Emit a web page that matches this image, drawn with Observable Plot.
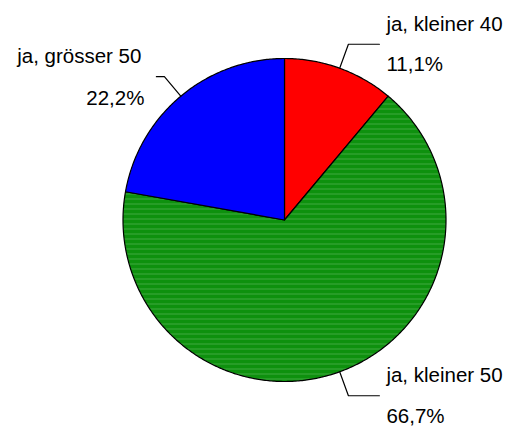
<!DOCTYPE html>
<html><head><meta charset="utf-8">
<script src="https://cdn.jsdelivr.net/npm/d3@7"></script>
<script src="https://cdn.jsdelivr.net/npm/@observablehq/plot@0.6"></script>
<style>body{margin:0;background:#fff}</style>
</head><body><div id="chart"></div>
<script>
// Data
const categories = ["ja, kleiner 40", "ja, kleiner 50", "ja, grösser 50"];
const percentages = [11.1, 66.7, 22.2];
const percentLabels = ["11,1%", "66,7%", "22,2%"];
const sliceColors = ["#ff0000", "url(#greenStripes)", "#0000ff"];

// Layout
const W = 512, H = 426;
const cx = 284, cy = 219.5, R = 161.5;
const elbowRatio = 1.158;

const total = d3.sum(percentages);
let cum = 0;
const slices = categories.map((name, i) => {
  const a0 = 2 * Math.PI * cum / total;
  cum += percentages[i];
  const a1 = 2 * Math.PI * cum / total;
  return {name, value: percentages[i], label: percentLabels[i], fill: sliceColors[i], a0, a1};
});

// Arc polygons (angle 0 = 12 o'clock, clockwise)
function arcPoints(s) {
  const n = Math.max(4, Math.ceil((s.a1 - s.a0) / 0.01));
  const pts = [{name: s.name, x: 0, y: 0}];
  for (let k = 0; k <= n; k++) {
    const a = s.a0 + (s.a1 - s.a0) * k / n;
    pts.push({name: s.name, x: Math.sin(a), y: Math.cos(a)});
  }
  pts.push({name: s.name, x: 0, y: 0});
  return pts;
}

// Leader lines and label anchors
const leaders = [];
const labels = [];
slices.forEach(s => {
  const m = (s.a0 + s.a1) / 2;
  const ex = Math.sin(m), ey = Math.cos(m);
  const bx = ex * elbowRatio, by = ey * elbowRatio;
  const right = ex >= 0;
  const h = (right ? 31 : -8) / R;
  const endX = bx + h;
  leaders.push({name: s.name, x: ex, y: ey}, {name: s.name, x: bx, y: by}, {name: s.name, x: endX, y: by});
  labels.push({name: s.name, label: s.label, x: endX, y: by, right});
});

const sliceMarks = slices.map(s =>
  Plot.line(arcPoints(s), {x: "x", y: "y", fill: s.fill, stroke: "black", strokeWidth: 1.2, strokeLinejoin: "round"})
);

const textStyle = {fontFamily: "'Liberation Sans', Arial, sans-serif", fontSize: 20.5, fill: "#000", lineAnchor: "bottom"};

const svg = Plot.plot({
  width: W, height: H, margin: 0,
  x: {domain: [-1, 1], range: [cx - R, cx + R], axis: null},
  y: {domain: [-1, 1], range: [cy + R, cy - R], axis: null},
  marks: [
    ...sliceMarks,
    Plot.line(leaders, {x: "x", y: "y", z: "name", stroke: "black", strokeWidth: 1.2}),
    Plot.text(labels.filter(d => d.right), {x: "x", y: "y", text: "name", textAnchor: "start", dx: 7, dy: -13.5, ...textStyle}),
    Plot.text(labels.filter(d => d.right), {x: "x", y: "y", text: "label", textAnchor: "start", dx: 7, dy: 26.8, ...textStyle}),
    Plot.text(labels.filter(d => !d.right), {x: "x", y: "y", text: "name", textAnchor: "end", dx: -15, dy: -14, ...textStyle}),
    Plot.text(labels.filter(d => !d.right), {x: "x", y: "y", text: "label", textAnchor: "end", dx: -12, dy: 28, ...textStyle})
  ]
});

d3.select(svg).insert("defs", ":first-child").html(
  '<pattern id="greenStripes" patternUnits="userSpaceOnUse" width="8" height="5">' +
  '<rect width="8" height="5" fill="#0e910e"/>' +
  '<rect y="3" width="8" height="1" fill="#40a940"/>' +
  '</pattern>'
);

document.getElementById("chart").appendChild(svg);
</script>
</body></html>
